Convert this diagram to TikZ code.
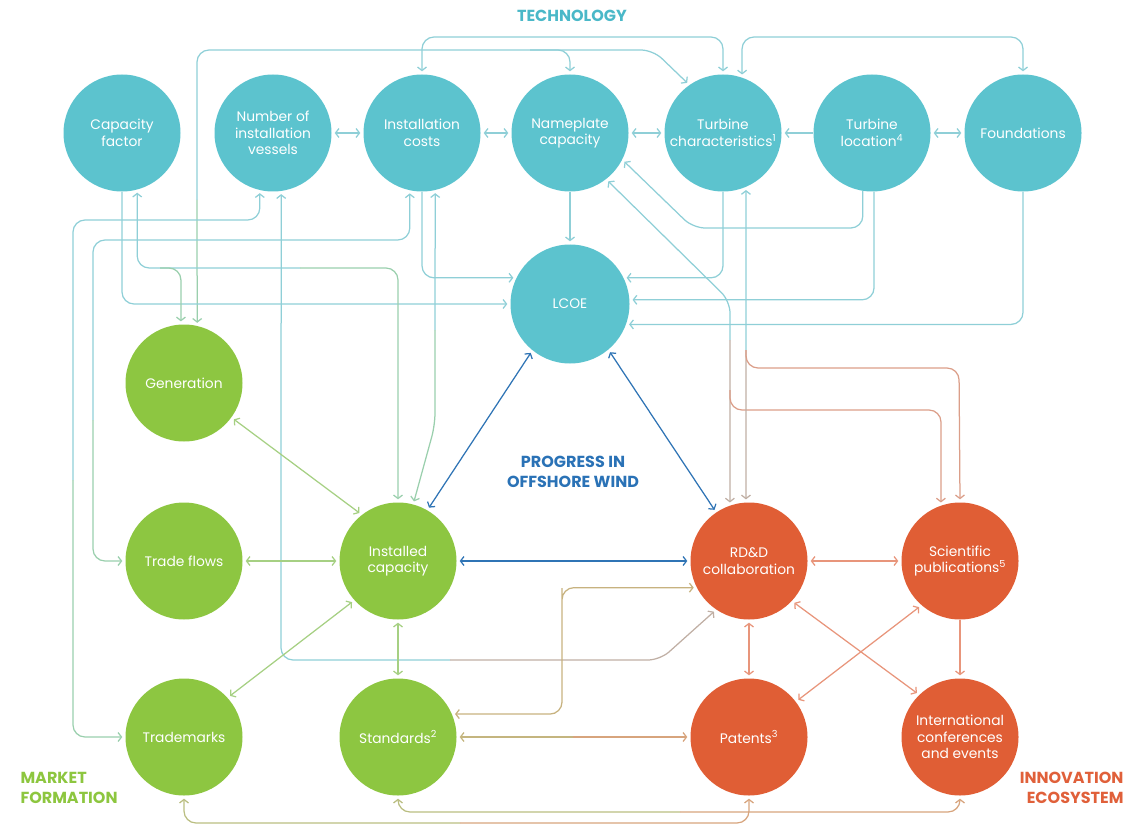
\documentclass[tikz,border=0pt]{standalone}
\usepackage{fontspec}
\setmainfont{Poppins}
\usetikzlibrary{arrows.meta}
\definecolor{nTeal}{HTML}{5CC3CE}
\definecolor{nGreen}{HTML}{8DC641}
\definecolor{nOrange}{HTML}{E05E35}
\definecolor{lnT}{HTML}{8FCFD7}
\definecolor{lnG}{HTML}{A6D083}
\definecolor{lnO}{HTML}{E8957B}
\definecolor{lnB}{HTML}{2F74B5}
\colorlet{lnTG}{lnT!50!lnG}
\colorlet{lnTO}{lnT!45!lnO}
\colorlet{lnGO}{lnG!50!lnO}
\definecolor{cTech}{HTML}{4AB8C8}
\definecolor{cProg}{HTML}{2A72B6}
\definecolor{cMkt}{HTML}{8DC63F}
\definecolor{cInn}{HTML}{E0603A}
\begin{document}
\begin{tikzpicture}[x=1pt,y=-1pt,
 >={Straight Barb[length=3.5pt,width=9pt]},
 bub/.style={circle, minimum size=117pt, inner sep=0pt, text=white, align=center, font=\fontsize{13.8}{16.5}\selectfont},
 tbub/.style={bub, fill=nTeal}, gbub/.style={bub, fill=nGreen}, obub/.style={bub, fill=nOrange},
 conn/.style={line width=1.25pt, rounded corners=12pt},
 ea/.style={conn, ->, shorten >=3pt},
 sa/.style={conn, <-, shorten <=3pt},
 da/.style={conn, <->, shorten <=3pt, shorten >=3pt},
 lab/.style={font=\bfseries\fontsize{16}{19.5}\selectfont}]
\useasboundingbox (0,0) rectangle (1134,826);

% nodes
\node[tbub] (cf) at (122,133) {Capacity\\factor};
\node[tbub] (nv) at (273,133) {Number of\\installation\\vessels};
\node[tbub] (ic) at (422,133) {Installation\\costs};
\node[tbub] (np) at (570,133) {Nameplate\\capacity};
\node[tbub] (tch) at (723,133) {Turbine\\characteristics\textsuperscript{1}};
\node[tbub] (tlo) at (872,133) {Turbine\\location\textsuperscript{4}};
\node[tbub] (fd) at (1023,133) {Foundations};
\node[tbub, minimum size=119pt] (lcoe) at (570,304) {LCOE};
\node[gbub] (gen) at (184,383) {Generation};
\node[gbub] (tf) at (184,561) {Trade flows};
\node[gbub] (inst) at (398,561) {Installed\\capacity};
\node[gbub] (tm) at (184,737) {Trademarks};
\node[gbub] (st) at (398,737) {Standards\textsuperscript{2}};
\node[obub] (rdd) at (749,561) {RD\&D\\collaboration};
\node[obub] (sp) at (960,561) {Scientific\\publications\textsuperscript{5}};
\node[obub] (pat) at (749,737) {Patents\textsuperscript{3}};
\node[obub] (ice) at (960,737) {International\\conferences\\and events};

% labels
\node[lab, text=cTech] (ltech) at (572,16) {TECHNOLOGY};
\node[lab, text=cProg, align=center] (lprog) at (573,472) {PROGRESS IN\\OFFSHORE WIND};
\node[lab, text=cMkt, align=left, anchor=west] (lmkt) at (17,788) {MARKET\\FORMATION};
\node[lab, text=cInn, align=right, anchor=east] (linn) at (1127,788) {INNOVATION\\ECOSYSTEM};

% technology row
\draw[lnT, da] (nv) -- (ic);
\draw[lnT, da] (ic) -- (np);
\draw[lnT, da] (np) -- (tch);
\draw[lnT, ea] (tlo) -- (tch);
\draw[lnT, da] (tlo) -- (fd);
\draw[lnT, da] (ic.north) -- (422,37) -- (723,37) -- (tch.north);
\draw[lnT, da] (tch.71) -- (742,37) -- (1023,37) -- (fd.north);

% turbine characteristics <-> generation, branch to nameplate
\draw[lnT, sa] (tch.125) -- (653,50) -- (197,50) -- (197,200);
\draw[color=lnTG, ea] (197,200) -- (gen.77);
\draw[lnT, ea] (530,50) -- (570,50) -- (np.north);

% into LCOE
\draw[lnT, ea] (np) -- (lcoe);
\draw[lnT, ea] (cf.south) |- (lcoe.west);
\draw[lnT, ea] (ic.south) |- (lcoe.154);
\draw[lnT, ea] (tch.south) |- (lcoe.26);
\draw[lnT, ea] (tlo.-88) |- (lcoe.4);
\draw[lnT, ea] (fd.south) |- (lcoe.-20);

% capacity factor <-> installed capacity, branch to generation
\draw[lnT, sa] (cf.-75) |- (300,268);
\draw[color=lnTG, ea] (300,268) -| (inst.north);
\draw[color=lnTG, ea] (160,268) -| (gen.93);

% number of vessels <-> trademarks
\draw[lnT, sa] (nv.-103) |- (73,220) -- (73,480);
\draw[color=lnTG, ea] (73,480) |- (tm.west);

% installation costs <-> trade flows
\draw[lnT, sa] (ic.-102) |- (93,240) -- (93,420);
\draw[color=lnTG, ea] (93,420) |- (tf.west);

% number of vessels <-> RD&D
\draw[lnT, sa] (nv.-82) -- (281,660) -- (450,660);
\draw[color=lnTO, ea] (450,660) -- (660,660) -- (rdd.236);

% installation costs <-> installed capacity
\draw[lnT, sa] (ic.-77) -- (435,330);
\draw[color=lnTG, ea] (435,330) -- (435,425) -- (inst.75);

% turbine location -> nameplate
\draw[lnT, ea] (tlo.-99) |- (693,228) -- (np.-27);

% nameplate <-> RD&D, branch to publications
\draw[lnT, sa] (np.-52) -- (730,301) -- (730,340);
\draw[color=lnTO, ea] (730,340) -- (rdd.109);
\draw[color=lnO!85!lnT, ea] (730,390) -- (730,410) -- (941,410) -- (sp.109);

% turbine characteristics <-> RD&D, branch to publications
\draw[lnT, sa] (tch.-67) -- (746,350);
\draw[color=lnTO, ea] (746,350) -- (rdd.93);
\draw[color=lnO!85!lnT, ea] (746,350) -- (746,368) -- (959,368) -- (sp.north);

% market formation
\draw[lnG, da] (gen.-36) -- (inst.128);
\draw[lnG, da] (tf) -- (inst);
\draw[lnG, da] (tm.42) -- (inst.222);
\draw[lnG, da] (inst) -- (st);

% progress triangle
\draw[lnB, da] (inst) -- (rdd);
\draw[lnB, da] (inst.60) -- (lcoe.231);
\draw[lnB, da] (lcoe.-50) -- (rdd.124);

% innovation ecosystem
\draw[lnO, da] (rdd) -- (sp);
\draw[lnO, da] (rdd) -- (pat);
\draw[lnO, da] (rdd.-43) -- (ice.134);
\draw[lnO, da] (sp.229) -- (pat.37);
\draw[lnO, ea] (sp) -- (ice);

% cross links market <-> innovation
\draw[color=lnG!55!lnO, sa] (st) -- (573,737);
\draw[color=lnG!25!lnO, ea] (573,737) -- (pat);
\draw[color=lnGO, da] (st.23) -| (562,600) |- (rdd.207);
\draw[color=lnG!70!lnO, sa] (tm.south) |- (460,823);
\draw[color=lnG!25!lnO, ea] (460,823) -| (pat.south);
\draw[color=lnG!70!lnO, sa] (st.south) |- (680,812);
\draw[color=lnG!25!lnO, ea] (680,812) -| (ice.south);
\end{tikzpicture}
\end{document}
